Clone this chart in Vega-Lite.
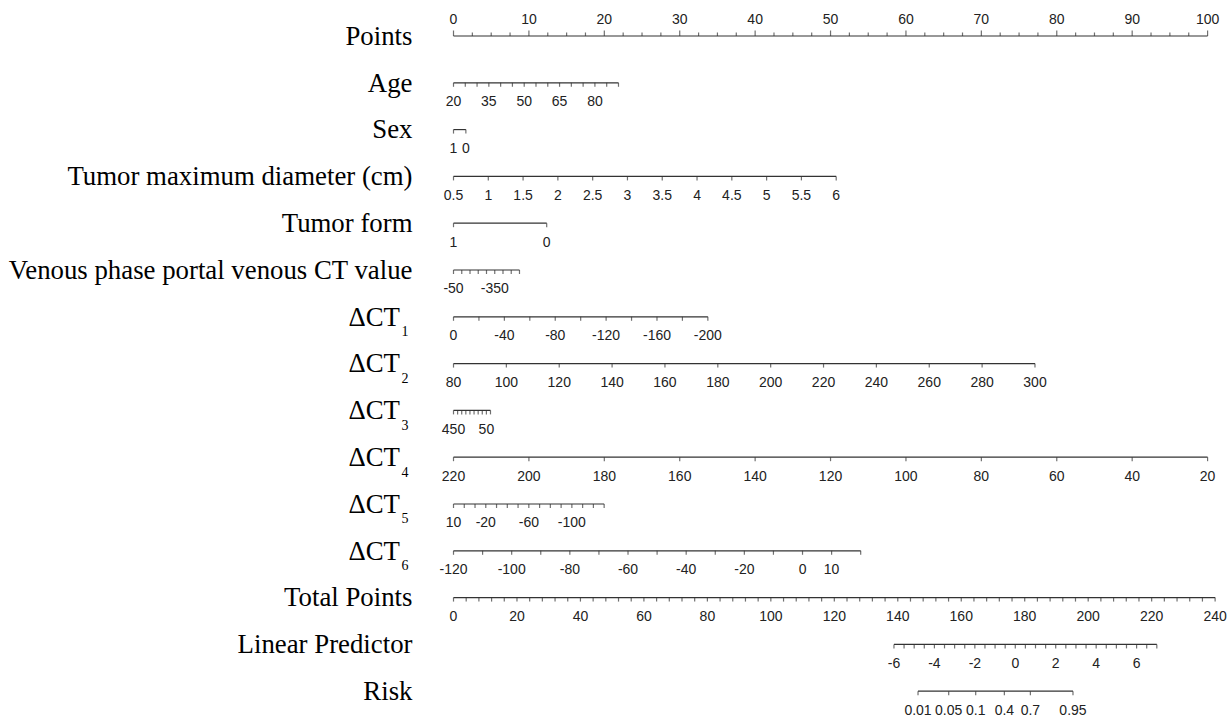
{
 "$schema": "https://vega.github.io/schema/vega-lite/v6.json",
 "width": 1229, "height": 718, "autosize": {"type": "none"}, "padding": 0,
 "background": "white",
 "config": {"view": {"stroke": null}},
 "datasets": {
  "ticks": [
   {"row":0,"pos":0,"label":"0","major":1},{"row":0,"pos":2.5,"label":"","major":0},{"row":0,"pos":5,"label":"","major":0},{"row":0,"pos":7.5,"label":"","major":0},
   {"row":0,"pos":10,"label":"10","major":1},{"row":0,"pos":12.5,"label":"","major":0},{"row":0,"pos":15,"label":"","major":0},{"row":0,"pos":17.5,"label":"","major":0},
   {"row":0,"pos":20,"label":"20","major":1},{"row":0,"pos":22.5,"label":"","major":0},{"row":0,"pos":25,"label":"","major":0},{"row":0,"pos":27.5,"label":"","major":0},
   {"row":0,"pos":30,"label":"30","major":1},{"row":0,"pos":32.5,"label":"","major":0},{"row":0,"pos":35,"label":"","major":0},{"row":0,"pos":37.5,"label":"","major":0},
   {"row":0,"pos":40,"label":"40","major":1},{"row":0,"pos":42.5,"label":"","major":0},{"row":0,"pos":45,"label":"","major":0},{"row":0,"pos":47.5,"label":"","major":0},
   {"row":0,"pos":50,"label":"50","major":1},{"row":0,"pos":52.5,"label":"","major":0},{"row":0,"pos":55,"label":"","major":0},{"row":0,"pos":57.5,"label":"","major":0},
   {"row":0,"pos":60,"label":"60","major":1},{"row":0,"pos":62.5,"label":"","major":0},{"row":0,"pos":65,"label":"","major":0},{"row":0,"pos":67.5,"label":"","major":0},
   {"row":0,"pos":70,"label":"70","major":1},{"row":0,"pos":72.5,"label":"","major":0},{"row":0,"pos":75,"label":"","major":0},{"row":0,"pos":77.5,"label":"","major":0},
   {"row":0,"pos":80,"label":"80","major":1},{"row":0,"pos":82.5,"label":"","major":0},{"row":0,"pos":85,"label":"","major":0},{"row":0,"pos":87.5,"label":"","major":0},
   {"row":0,"pos":90,"label":"90","major":1},{"row":0,"pos":92.5,"label":"","major":0},{"row":0,"pos":95,"label":"","major":0},{"row":0,"pos":97.5,"label":"","major":0},
   {"row":0,"pos":100,"label":"100","major":1},

   {"row":1,"pos":0,"label":"20"},{"row":1,"pos":1.563,"label":""},{"row":1,"pos":3.125,"label":""},{"row":1,"pos":4.688,"label":"35"},
   {"row":1,"pos":6.251,"label":""},{"row":1,"pos":7.813,"label":""},{"row":1,"pos":9.376,"label":"50"},{"row":1,"pos":10.939,"label":""},
   {"row":1,"pos":12.501,"label":""},{"row":1,"pos":14.064,"label":"65"},{"row":1,"pos":15.627,"label":""},{"row":1,"pos":17.19,"label":""},
   {"row":1,"pos":18.752,"label":"80"},{"row":1,"pos":20.315,"label":""},{"row":1,"pos":21.878,"label":""},

   {"row":2,"pos":0,"label":"1"},{"row":2,"pos":1.64,"label":"0"},

   {"row":3,"pos":0,"label":"0.5"},{"row":3,"pos":4.614,"label":"1"},{"row":3,"pos":9.227,"label":"1.5"},{"row":3,"pos":13.841,"label":"2"},
   {"row":3,"pos":18.455,"label":"2.5"},{"row":3,"pos":23.068,"label":"3"},{"row":3,"pos":27.682,"label":"3.5"},{"row":3,"pos":32.295,"label":"4"},
   {"row":3,"pos":36.909,"label":"4.5"},{"row":3,"pos":41.523,"label":"5"},{"row":3,"pos":46.136,"label":"5.5"},{"row":3,"pos":50.75,"label":"6"},

   {"row":4,"pos":0,"label":"1"},{"row":4,"pos":12.36,"label":"0"},

   {"row":5,"pos":0,"label":"-50"},{"row":5,"pos":1.094,"label":""},{"row":5,"pos":2.188,"label":""},{"row":5,"pos":3.281,"label":""},
   {"row":5,"pos":4.375,"label":""},{"row":5,"pos":5.469,"label":"-350"},{"row":5,"pos":6.563,"label":""},{"row":5,"pos":7.656,"label":""},{"row":5,"pos":8.75,"label":""},

   {"row":6,"pos":0,"label":"0"},{"row":6,"pos":3.373,"label":""},{"row":6,"pos":6.746,"label":"-40"},{"row":6,"pos":10.119,"label":""},
   {"row":6,"pos":13.492,"label":"-80"},{"row":6,"pos":16.865,"label":""},{"row":6,"pos":20.238,"label":"-120"},{"row":6,"pos":23.611,"label":""},
   {"row":6,"pos":26.984,"label":"-160"},{"row":6,"pos":30.357,"label":""},{"row":6,"pos":33.73,"label":"-200"},

   {"row":7,"pos":0,"label":"80"},{"row":7,"pos":7.01,"label":"100"},{"row":7,"pos":14.02,"label":"120"},{"row":7,"pos":21.03,"label":"140"},
   {"row":7,"pos":28.04,"label":"160"},{"row":7,"pos":35.05,"label":"180"},{"row":7,"pos":42.06,"label":"200"},{"row":7,"pos":49.07,"label":"220"},
   {"row":7,"pos":56.08,"label":"240"},{"row":7,"pos":63.09,"label":"260"},{"row":7,"pos":70.1,"label":"280"},{"row":7,"pos":77.11,"label":"300"},

   {"row":8,"pos":0,"label":"450"},{"row":8,"pos":0.545,"label":""},{"row":8,"pos":1.09,"label":""},{"row":8,"pos":1.635,"label":""},
   {"row":8,"pos":2.18,"label":""},{"row":8,"pos":2.725,"label":""},{"row":8,"pos":3.27,"label":""},{"row":8,"pos":3.815,"label":""},
   {"row":8,"pos":4.36,"label":"50"},{"row":8,"pos":4.905,"label":""},

   {"row":9,"pos":0,"label":"220"},{"row":9,"pos":10,"label":"200"},{"row":9,"pos":20,"label":"180"},{"row":9,"pos":30,"label":"160"},
   {"row":9,"pos":40,"label":"140"},{"row":9,"pos":50,"label":"120"},{"row":9,"pos":60,"label":"100"},{"row":9,"pos":70,"label":"80"},
   {"row":9,"pos":80,"label":"60"},{"row":9,"pos":90,"label":"40"},{"row":9,"pos":100,"label":"20"},

   {"row":10,"pos":0,"label":"10"},{"row":10,"pos":1.427,"label":""},{"row":10,"pos":2.854,"label":""},{"row":10,"pos":4.281,"label":"-20"},
   {"row":10,"pos":5.708,"label":""},{"row":10,"pos":7.135,"label":""},{"row":10,"pos":8.562,"label":""},{"row":10,"pos":9.989,"label":"-60"},
   {"row":10,"pos":11.416,"label":""},{"row":10,"pos":12.843,"label":""},{"row":10,"pos":14.27,"label":""},{"row":10,"pos":15.697,"label":"-100"},
   {"row":10,"pos":17.124,"label":""},{"row":10,"pos":18.551,"label":""},{"row":10,"pos":19.978,"label":""},

   {"row":11,"pos":0,"label":"-120"},{"row":11,"pos":3.857,"label":""},{"row":11,"pos":7.714,"label":"-100"},{"row":11,"pos":11.571,"label":""},
   {"row":11,"pos":15.428,"label":"-80"},{"row":11,"pos":19.285,"label":""},{"row":11,"pos":23.142,"label":"-60"},{"row":11,"pos":26.999,"label":""},
   {"row":11,"pos":30.856,"label":"-40"},{"row":11,"pos":34.713,"label":""},{"row":11,"pos":38.57,"label":"-20"},{"row":11,"pos":42.427,"label":""},
   {"row":11,"pos":46.284,"label":"0"},{"row":11,"pos":50.141,"label":"10"},{"row":11,"pos":53.998,"label":""},

   {"row":12,"pos":0,"label":"0"},{"row":12,"pos":1.683,"label":""},{"row":12,"pos":3.367,"label":""},{"row":12,"pos":5.05,"label":""},{"row":12,"pos":6.733,"label":""},
   {"row":12,"pos":8.417,"label":"20"},{"row":12,"pos":10.1,"label":""},{"row":12,"pos":11.783,"label":""},{"row":12,"pos":13.467,"label":""},{"row":12,"pos":15.15,"label":""},
   {"row":12,"pos":16.833,"label":"40"},{"row":12,"pos":18.517,"label":""},{"row":12,"pos":20.2,"label":""},{"row":12,"pos":21.883,"label":""},{"row":12,"pos":23.567,"label":""},
   {"row":12,"pos":25.25,"label":"60"},{"row":12,"pos":26.933,"label":""},{"row":12,"pos":28.617,"label":""},{"row":12,"pos":30.3,"label":""},{"row":12,"pos":31.983,"label":""},
   {"row":12,"pos":33.667,"label":"80"},{"row":12,"pos":35.35,"label":""},{"row":12,"pos":37.033,"label":""},{"row":12,"pos":38.717,"label":""},{"row":12,"pos":40.4,"label":""},
   {"row":12,"pos":42.083,"label":"100"},{"row":12,"pos":43.767,"label":""},{"row":12,"pos":45.45,"label":""},{"row":12,"pos":47.133,"label":""},{"row":12,"pos":48.817,"label":""},
   {"row":12,"pos":50.5,"label":"120"},{"row":12,"pos":52.183,"label":""},{"row":12,"pos":53.867,"label":""},{"row":12,"pos":55.55,"label":""},{"row":12,"pos":57.233,"label":""},
   {"row":12,"pos":58.917,"label":"140"},{"row":12,"pos":60.6,"label":""},{"row":12,"pos":62.283,"label":""},{"row":12,"pos":63.967,"label":""},{"row":12,"pos":65.65,"label":""},
   {"row":12,"pos":67.333,"label":"160"},{"row":12,"pos":69.017,"label":""},{"row":12,"pos":70.7,"label":""},{"row":12,"pos":72.383,"label":""},{"row":12,"pos":74.067,"label":""},
   {"row":12,"pos":75.75,"label":"180"},{"row":12,"pos":77.433,"label":""},{"row":12,"pos":79.117,"label":""},{"row":12,"pos":80.8,"label":""},{"row":12,"pos":82.483,"label":""},
   {"row":12,"pos":84.167,"label":"200"},{"row":12,"pos":85.85,"label":""},{"row":12,"pos":87.533,"label":""},{"row":12,"pos":89.217,"label":""},{"row":12,"pos":90.9,"label":""},
   {"row":12,"pos":92.583,"label":"220"},{"row":12,"pos":94.267,"label":""},{"row":12,"pos":95.95,"label":""},{"row":12,"pos":97.633,"label":""},{"row":12,"pos":99.317,"label":""},
   {"row":12,"pos":101.0,"label":"240"},

   {"row":13,"pos":58.41,"label":"-6"},{"row":13,"pos":59.751,"label":""},{"row":13,"pos":61.091,"label":""},{"row":13,"pos":62.432,"label":""},
   {"row":13,"pos":63.773,"label":"-4"},{"row":13,"pos":65.114,"label":""},{"row":13,"pos":66.454,"label":""},{"row":13,"pos":67.795,"label":""},
   {"row":13,"pos":69.136,"label":"-2"},{"row":13,"pos":70.476,"label":""},{"row":13,"pos":71.817,"label":""},{"row":13,"pos":73.158,"label":""},
   {"row":13,"pos":74.498,"label":"0"},{"row":13,"pos":75.839,"label":""},{"row":13,"pos":77.18,"label":""},{"row":13,"pos":78.521,"label":""},
   {"row":13,"pos":79.861,"label":"2"},{"row":13,"pos":81.202,"label":""},{"row":13,"pos":82.543,"label":""},{"row":13,"pos":83.883,"label":""},
   {"row":13,"pos":85.224,"label":"4"},{"row":13,"pos":86.565,"label":""},{"row":13,"pos":87.905,"label":""},{"row":13,"pos":89.246,"label":""},
   {"row":13,"pos":90.587,"label":"6"},{"row":13,"pos":91.928,"label":""},{"row":13,"pos":93.268,"label":""},

   {"row":14,"pos":61.6,"label":"0.01"},{"row":14,"pos":65.67,"label":"0.05"},{"row":14,"pos":69.25,"label":"0.1"},
   {"row":14,"pos":73.05,"label":"0.4"},{"row":14,"pos":76.5,"label":"0.7"},{"row":14,"pos":82.15,"label":"0.95"}
  ],
  "titles": [
   {"row":0,"title":"Points","sub":""},
   {"row":1,"title":"Age","sub":""},
   {"row":2,"title":"Sex","sub":""},
   {"row":3,"title":"Tumor maximum diameter (cm)","sub":""},
   {"row":4,"title":"Tumor form","sub":""},
   {"row":5,"title":"Venous phase portal venous CT value","sub":""},
   {"row":6,"title":"ΔCT","sub":"1"},
   {"row":7,"title":"ΔCT","sub":"2"},
   {"row":8,"title":"ΔCT","sub":"3"},
   {"row":9,"title":"ΔCT","sub":"4"},
   {"row":10,"title":"ΔCT","sub":"5"},
   {"row":11,"title":"ΔCT","sub":"6"},
   {"row":12,"title":"Total Points","sub":""},
   {"row":13,"title":"Linear Predictor","sub":""},
   {"row":14,"title":"Risk","sub":""}
  ]
 },
 "layer": [
  {"data": {"name": "ticks"}, "mark": {"type": "line", "color": "#333333", "strokeWidth": 1.2},
   "encoding": {
    "x": {"field": "pos", "type": "quantitative", "scale": {"domain": [-60.14, 102.84], "nice": false, "zero": false}, "axis": null},
    "y": {"field": "row", "type": "quantitative", "scale": {"domain": [-0.769, 14.573], "nice": false, "zero": false, "reverse": true}, "axis": null},
    "detail": {"field": "row", "type": "nominal"}, "order": {"field": "pos", "type": "quantitative"}}},
  {"data": {"name": "ticks"}, "transform": [{"filter": "datum.row > 0"}],
   "mark": {"type": "tick", "orient": "vertical", "size": 4, "thickness": 1.2, "yOffset": 2, "color": "#333333"},
   "encoding": {
    "x": {"field": "pos", "type": "quantitative", "scale": {"domain": [-60.14, 102.84], "nice": false, "zero": false}, "axis": null},
    "y": {"field": "row", "type": "quantitative", "scale": {"domain": [-0.769, 14.573], "nice": false, "zero": false, "reverse": true}, "axis": null}}},
  {"data": {"name": "ticks"}, "transform": [{"filter": "datum.row == 0 && datum.major == 1"}],
   "mark": {"type": "tick", "orient": "vertical", "size": 5.5, "thickness": 1.2, "yOffset": -2.75, "color": "#333333"},
   "encoding": {
    "x": {"field": "pos", "type": "quantitative", "scale": {"domain": [-60.14, 102.84], "nice": false, "zero": false}, "axis": null},
    "y": {"field": "row", "type": "quantitative", "scale": {"domain": [-0.769, 14.573], "nice": false, "zero": false, "reverse": true}, "axis": null}}},
  {"data": {"name": "ticks"}, "transform": [{"filter": "datum.row == 0 && datum.major == 0"}],
   "mark": {"type": "tick", "orient": "vertical", "size": 3.5, "thickness": 1.2, "yOffset": -1.75, "color": "#333333"},
   "encoding": {
    "x": {"field": "pos", "type": "quantitative", "scale": {"domain": [-60.14, 102.84], "nice": false, "zero": false}, "axis": null},
    "y": {"field": "row", "type": "quantitative", "scale": {"domain": [-0.769, 14.573], "nice": false, "zero": false, "reverse": true}, "axis": null}}},
  {"data": {"name": "ticks"}, "transform": [{"filter": "datum.row > 0 && datum.label != ''"}],
   "mark": {"type": "text", "font": "Liberation Sans", "fontSize": 14, "baseline": "alphabetic", "align": "center", "dy": 23.5, "color": "#222222"},
   "encoding": {
    "x": {"field": "pos", "type": "quantitative", "scale": {"domain": [-60.14, 102.84], "nice": false, "zero": false}, "axis": null},
    "y": {"field": "row", "type": "quantitative", "scale": {"domain": [-0.769, 14.573], "nice": false, "zero": false, "reverse": true}, "axis": null},
    "text": {"field": "label", "type": "nominal"}}},
  {"data": {"name": "ticks"}, "transform": [{"filter": "datum.row == 0 && datum.label != ''"}],
   "mark": {"type": "text", "font": "Liberation Sans", "fontSize": 14, "baseline": "alphabetic", "align": "center", "dy": -12, "color": "#222222"},
   "encoding": {
    "x": {"field": "pos", "type": "quantitative", "scale": {"domain": [-60.14, 102.84], "nice": false, "zero": false}, "axis": null},
    "y": {"field": "row", "type": "quantitative", "scale": {"domain": [-0.769, 14.573], "nice": false, "zero": false, "reverse": true}, "axis": null},
    "text": {"field": "label", "type": "nominal"}}},
  {"data": {"name": "titles"}, "transform": [{"filter": "datum.sub == ''"}],
   "mark": {"type": "text", "font": "Liberation Serif", "fontSize": 26.8, "baseline": "alphabetic", "align": "right", "dy": 8.8, "color": "#000000"},
   "encoding": {
    "x": {"datum": -5.44, "type": "quantitative", "scale": {"domain": [-60.14, 102.84], "nice": false, "zero": false}, "axis": null},
    "y": {"field": "row", "type": "quantitative", "scale": {"domain": [-0.769, 14.573], "nice": false, "zero": false, "reverse": true}, "axis": null},
    "text": {"field": "title", "type": "nominal"}}},
  {"data": {"name": "titles"}, "transform": [{"filter": "datum.sub != ''"}],
   "mark": {"type": "text", "font": "Liberation Serif", "fontSize": 26.8, "baseline": "alphabetic", "align": "right", "dy": 8.8, "color": "#000000"},
   "encoding": {
    "x": {"datum": -7.1, "type": "quantitative", "scale": {"domain": [-60.14, 102.84], "nice": false, "zero": false}, "axis": null},
    "y": {"field": "row", "type": "quantitative", "scale": {"domain": [-0.769, 14.573], "nice": false, "zero": false, "reverse": true}, "axis": null},
    "text": {"field": "title", "type": "nominal"}}},
  {"data": {"name": "titles"}, "transform": [{"filter": "datum.sub != ''"}],
   "mark": {"type": "text", "font": "Liberation Serif", "fontSize": 14, "baseline": "alphabetic", "align": "left", "dx": 1.5, "dy": 19.5, "color": "#000000"},
   "encoding": {
    "x": {"datum": -7.1, "type": "quantitative", "scale": {"domain": [-60.14, 102.84], "nice": false, "zero": false}, "axis": null},
    "y": {"field": "row", "type": "quantitative", "scale": {"domain": [-0.769, 14.573], "nice": false, "zero": false, "reverse": true}, "axis": null},
    "text": {"field": "sub", "type": "nominal"}}}
 ]
}
